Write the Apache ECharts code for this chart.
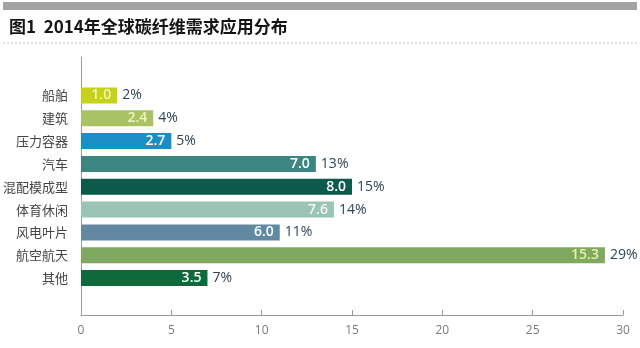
<!DOCTYPE html>
<html>
<head>
<meta charset="utf-8">
<script src="https://cdn.jsdelivr.net/npm/echarts@6/dist/echarts.min.js"></script>
<style>
  html, body { margin: 0; padding: 0; background: #fff; }
  #chart { width: 640px; height: 348px; }
</style>
</head>
<body>
<div id="chart"></div>
<script>
// 2014 global carbon-fibre demand by application
const categories = ['船舶', '建筑', '压力容器', '汽车', '混配模成型', '体育休闲', '风电叶片', '航空航天', '其他'];
// demand (10k tonnes), printed inside each bar
const demand = [1.0, 2.4, 2.7, 7.0, 8.0, 7.6, 6.0, 15.3, 3.5];
// share of total (%), sets the bar length
const share = [2, 4, 5, 13, 15, 14, 11, 29, 7];
const barColors = ['#c5d219', '#a9c264', '#1b8ec6', '#3b8583', '#0b5a4b', '#9ac4b5', '#6289a1', '#7fa861', '#0f6a3b'];
const innerLabelColors = ['#f4f4b8', '#f2f2c0', '#ffffff', '#ffffff', '#ffffff', '#f2f7f4', '#ffffff', '#e6f2a6', '#ffffff'];
const xTicks = [0, 30, 5];

const chart = echarts.init(document.getElementById('chart'), null, { renderer: 'canvas' });
const cjk = '"Noto Sans CJK SC", sans-serif';
const num = '"Open Sans", "Noto Sans CJK SC", sans-serif';

chart.setOption({
  backgroundColor: '#ffffff',
  animation: false,
  title: {
    text: '图1  2014年全球碳纤维需求应用分布',
    left: 4, top: 13,
    textStyle: { fontFamily: cjk, fontSize: 17, fontWeight: 'bold', color: '#151515' }
  },
  graphic: [
    { type: 'rect', shape: { x: 3, y: 2, width: 634, height: 8 }, style: { fill: '#a2a2a2' } },
    { type: 'line', shape: { x1: 3, y1: 43, x2: 637, y2: 43 }, style: { stroke: '#c8c8c8', lineWidth: 1, lineDash: [2, 2] } }
  ],
  grid: [
    // bars
    { left: 81, right: 17, top: 84, bottom: 58.5 },
    // frame: y-axis line and x scale
    { left: 81, right: 17, top: 57, bottom: 33 }
  ],
  xAxis: [
    { gridIndex: 0, type: 'value', min: xTicks[0], max: xTicks[1], interval: xTicks[2], show: false },
    {
      gridIndex: 1, type: 'value', min: xTicks[0], max: xTicks[1], interval: xTicks[2],
      axisLine: { show: true, lineStyle: { color: '#9a9a9a', width: 1 } },
      axisTick: { show: true, inside: true, length: 5, lineStyle: { color: '#9a9a9a' } },
      axisLabel: { color: '#7a7a7a', fontSize: 12, fontFamily: num, margin: 10 },
      splitLine: { show: false }
    }
  ],
  yAxis: [
    {
      gridIndex: 0, type: 'category', data: categories, inverse: true,
      axisLine: { show: false }, axisTick: { show: false },
      axisLabel: { color: '#454545', fontSize: 13, fontFamily: cjk, margin: 13 }
    },
    {
      gridIndex: 1, type: 'value', min: 0, max: 1,
      axisLine: { show: true, lineStyle: { color: '#9a9a9a', width: 1 } },
      axisTick: { show: false }, axisLabel: { show: false }, splitLine: { show: false }
    }
  ],
  series: [
    {
      type: 'bar', xAxisIndex: 0, yAxisIndex: 0,
      barWidth: 16,
      data: share.map((v, i) => ({
        value: v,
        itemStyle: { color: barColors[i] },
        label: { color: innerLabelColors[i] }
      })),
      label: {
        show: true, position: 'insideRight', distance: 6,
        fontFamily: num, fontSize: 14, fontWeight: 600,
        formatter: p => demand[p.dataIndex].toFixed(1)
      }
    },
    {
      type: 'bar', xAxisIndex: 0, yAxisIndex: 0,
      barWidth: 16, barGap: '-100%',
      data: share,
      itemStyle: { color: 'rgba(0,0,0,0)' },
      label: {
        show: true, position: 'right', distance: 5,
        color: '#2f4557', fontFamily: num, fontSize: 14,
        formatter: p => p.value + '%'
      },
      silent: true
    }
  ]
});
</script>
</body>
</html>
